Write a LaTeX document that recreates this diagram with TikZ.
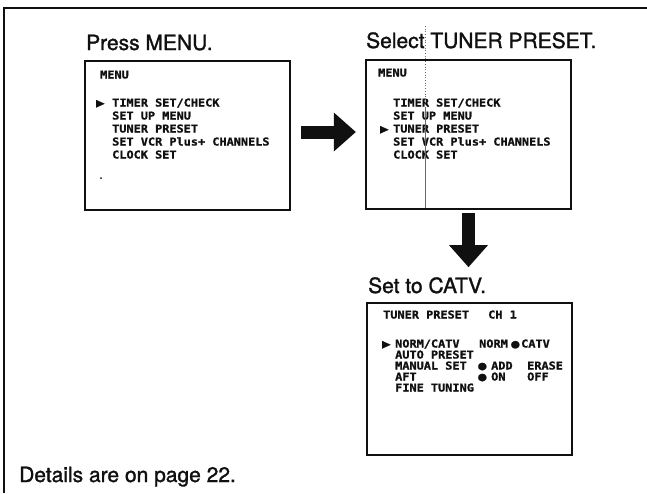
\documentclass[tikz,border=0pt]{standalone}
\usepackage{fontspec}
\setmainfont{TeX Gyre Heros}
\newfontfamily\capfont{TeX Gyre Heros}[FakeBold=1.4]
\newfontfamily\osdfont{DejaVu Sans Mono}[FakeStretch=1.1,FakeBold=1.2]
\usepackage{xcolor}
\usepackage{tikz}
\usetikzlibrary{arrows.meta}
\definecolor{ScanInk}{HTML}{101010}
\definecolor{ScanGrey}{HTML}{6A6A6A}
\tikzset{
  screen/.style={draw=ScanInk,line width=2.4pt,inner sep=0pt},
  osd/.style={anchor=base west,inner sep=0pt,text=ScanInk,font=\osdfont\bfseries\fontsize{10.8}{12}\selectfont},
  osdmark/.style={osd,font=\osdfont\fontsize{12.5}{13}\selectfont},
  caption/.style={anchor=base west,inner sep=0pt,text=ScanInk,font=\capfont\fontsize{21}{25}\selectfont},
  bigarrow/.style={ScanInk,line width=13pt,-{Triangle[length=22pt,width=39pt,line width=0pt]}}
}

\begin{document}
\begin{tikzpicture}[x=1pt,y=-1pt]
\path[use as bounding box] (0,0) rectangle (647,493);
\draw[ScanInk,line width=1.8pt] (4,493) -- (4,8) -- (647,8);
% screens
\node[screen,minimum width=205pt,minimum height=149pt] (scr1) at (187.5,135.5) {};
\node[screen,minimum width=205pt,minimum height=149pt] (scr2) at (468.5,134.5) {};
\node[screen,minimum width=205pt,minimum height=152pt] (scr3) at (469.5,379) {};
% captions
\node[caption] (press) at (86,50) {Press MENU.};
\node[caption] (select) at (366,48) {Select TUNER PRESET.};
\node[caption] (catv) at (368,293) {Set to CATV.};
\node[caption] (details) at (19,482) {Details are on page 22.};
% screen 1
\node[osd] (menua) at (100,78.5) {MENU};
\node[osdmark] (cura) at (96,107) {▶};
\foreach \txt [count=\i] in {{TIMER SET/CHECK},{SET UP MENU},{TUNER PRESET},{SET VCR Plus+ CHANNELS},{CLOCK SET}}
  \node[osd] (a\i) at (112,93.5+13*\i) {\txt};
\fill[ScanInk] (101,178) circle (1pt);
% screen 2
\node[osd] (menub) at (378,76.5) {MENU};
\node[osdmark] (curb) at (380,133) {▶};
\foreach \txt [count=\i] in {{TIMER SET/CHECK},{SET UP MENU},{TUNER PRESET},{SET VCR Plus+ CHANNELS},{CLOCK SET}}
  \node[osd] (b\i) at (393,93.5+13*\i) {\txt};
\draw[ScanGrey,line width=0.7pt,dotted] (425,26) -- (425,108);
\draw[ScanGrey,line width=0.7pt] (425,108) -- (425,208);
% screen 3
\node[osd] (tunc) at (383,318.5) {TUNER PRESET};
\node[osd] (chc) at (488,318.5) {CH 1};
\node[osdmark] (curc) at (382,348) {▶};
\foreach \txt [count=\i] in {{NORM/CATV},{AUTO PRESET},{MANUAL SET},{AFT},{FINE TUNING}}
  \node[osd] (c\i) at (395,336.5+11*\i) {\txt};
\node[osd] (normc) at (479,347.5) {NORM};
\node[osdmark] (dotc) at (511,348) {●};
\node[osd] (catvc) at (521,347.5) {CATV};
\node[osdmark] (dota) at (478,369.8) {●};
\node[osd] (addc) at (491,369.5) {ADD};
\node[osd] (erasec) at (527,369.5) {ERASE};
\node[osdmark] (dotb) at (478,380.8) {●};
\node[osd] (onc) at (491,380.5) {ON};
\node[osd] (offc) at (527,380.5) {OFF};
% arrows
\coordinate (ra) at ([yshift=3.5pt]scr1.east);
\draw[bigarrow,shorten <=10pt,shorten >=9pt] (ra) -- (ra -| scr2.west);
\draw[bigarrow,shorten <=3pt,shorten >=10pt] (scr2.south) -- (scr2.south |- catv.north);
\end{tikzpicture}
\end{document}
